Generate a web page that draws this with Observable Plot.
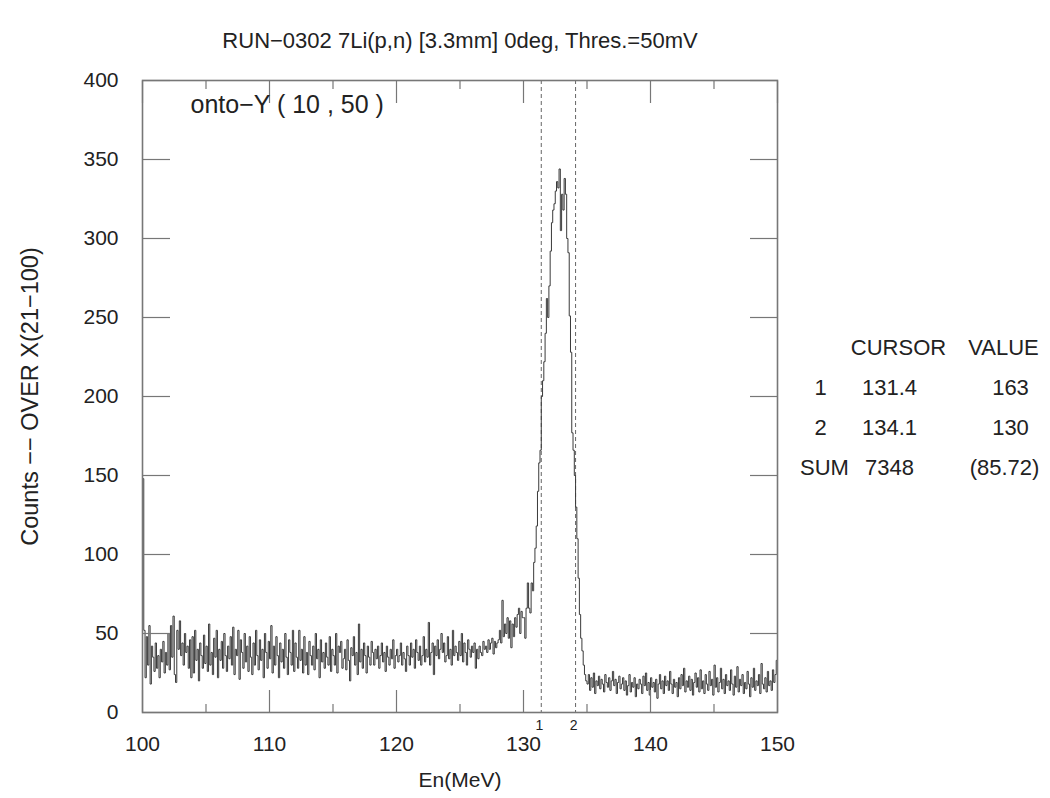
<!DOCTYPE html>
<html><head><meta charset="utf-8">
<script src="https://cdn.jsdelivr.net/npm/d3@7"></script>
<script src="https://cdn.jsdelivr.net/npm/@observablehq/plot@0.6"></script>
<style>body{margin:0;background:#fff;} svg{display:block;}</style>
</head><body><div id="chart"></div>
<script>
const title = "RUN\u22120302 7Li(p,n) [3.3mm] 0deg, Thres.=50mV";
const xLabel = "En(MeV)";
const yLabel = "Counts \u2212\u2212 OVER X(21\u2212100)";
const projLabel = "onto\u2212Y ( 10 , 50 )";
const binStart = 100;
const binWidth = 0.1;
const counts = [
148,52,22,48,30,55,18,42,35,26,
44,28,36,22,40,32,45,25,38,30,
50,27,55,35,61,24,19,52,40,58,
36,44,30,50,38,42,28,46,22,48,
25,52,33,40,20,44,36,28,49,31,
42,26,56,30,38,24,47,35,52,22,
40,33,45,28,50,36,26,42,34,48,
30,54,24,40,36,52,21,46,38,28,
50,32,42,26,48,35,24,44,30,52,
36,27,46,33,40,22,50,38,28,45,
34,55,25,42,30,48,36,22,44,32,
40,28,50,35,24,46,38,30,52,26,
44,35,28,52,33,40,25,48,30,38,
24,45,36,30,42,27,50,34,40,22,
46,32,38,28,44,35,30,48,26,40,
36,30,50,25,42,38,45,28,34,40,
27,46,33,20,41,36,48,30,38,24,
56,32,40,28,44,36,25,42,35,30,
45,38,30,40,34,42,28,36,44,32,
38,26,42,35,30,40,34,46,28,36,
40,32,36,44,30,38,34,26,42,36,
30,44,35,40,28,46,38,33,42,30,
36,48,32,40,35,57,30,38,44,24,
42,36,46,34,40,50,38,44,32,36,
48,34,40,30,52,36,42,38,33,45,
36,50,32,44,38,30,46,40,35,42,
38,44,28,40,34,42,38,36,45,40,
42,38,46,40,44,47,37,45,41,44,
46,52,44,71,48,56,50,60,47,58,
41,56,48,60,54,62,66,50,64,60,
60,47,66,82,66,63,82,77,95,104,
118,140,158,166,200,210,222,240,262,250,
270,292,310,318,322,330,336,332,344,305,
328,318,338,328,300,291,251,228,177,166,
150,130,110,85,62,47,39,30,24,20,
18,24,14,22,16,25,12,20,17,23,
15,21,18,13,24,19,16,22,14,20,
26,17,21,12,19,23,15,18,22,14,
20,11,17,24,13,19,16,22,10,18,
15,21,18,12,23,17,25,14,19,11,
22,16,19,13,21,9,18,24,15,20,
12,23,17,20,14,26,18,12,21,16,
19,10,22,15,24,17,28,13,20,16,
23,14,21,11,19,25,16,22,13,27,
15,20,12,24,18,14,26,17,21,11,
30,16,22,13,19,28,15,21,12,24,
17,20,14,27,18,11,23,16,29,13,
21,17,24,12,19,15,26,18,10,22,
16,28,14,20,17,24,12,31,18,15,
22,13,26,17,20,14,27,19,24,33
];
const xMajorTicks = [100, 110, 120, 130, 140, 150];
const xMinorTicks = [105, 115, 125, 135, 145];
const yTicks = [0, 50, 100, 150, 200, 250, 300, 350, 400];
const cursorPositions = [131.4, 134.1];
const cursorNames = ["1", "2"];
const tableHeader = ["CURSOR", "VALUE"];
const tableRowNames = ["1", "2", "SUM"];
const tableCursor = ["131.4", "134.1", "7348"];
const tableValue = ["163", "130", "(85.72)"];

// histogram outline (step) built from the bins
const hist = [{x: binStart, y: 0}];
counts.forEach((c, i) => hist.push({x: binStart + i * binWidth, y: c}));
const xEnd = binStart + counts.length * binWidth;
hist.push({x: xEnd, y: counts[counts.length - 1]});
hist.push({x: xEnd, y: 0});

const font = "Liberation Sans, Arial, Helvetica, sans-serif";
const fs = 21;
const tickColor = "#777";
const textColor = "#222";
const txt = {fontSize: fs, fill: textColor, textAnchor: "middle", lineAnchor: "middle"};

const tableMarks = [];
tableHeader.forEach((h, j) => {
  tableMarks.push(Plot.text([h], {...txt, fontSize: 22, frameAnchor: "right", dx: j === 0 ? 121 : 226, dy: -49}));
});
tableRowNames.forEach((r, i) => {
  const dy = -9 + 40 * i;
  tableMarks.push(Plot.text([r], {...txt, fontSize: 22, frameAnchor: "right", dx: i === 2 ? 47 : 43, dy}));
  tableMarks.push(Plot.text([tableCursor[i]], {...txt, fontSize: 22, frameAnchor: "right", dx: 112, dy}));
  tableMarks.push(Plot.text([tableValue[i]], {...txt, fontSize: 22, frameAnchor: "right", dx: i === 2 ? 227 : 233, dy}));
});

const chart = Plot.plot({
  width: 1050,
  height: 798,
  marginLeft: 142,
  marginRight: 273,
  marginTop: 80,
  marginBottom: 86,
  style: {fontFamily: font, background: "#fff", color: textColor},
  x: {domain: [100, 150]},
  y: {domain: [0, 400]},
  marks: [
    Plot.ruleX(cursorPositions, {x: d => d, stroke: "#666", strokeWidth: 1, strokeDasharray: "4,3"}),
    Plot.line(hist, {x: "x", y: "y", curve: "step-after", stroke: "#3a3a3a", strokeWidth: 1}),
    // inward ticks
    Plot.axisX({anchor: "bottom", ticks: xMajorTicks, tickSize: -22, tickFormat: () => "", stroke: tickColor, strokeWidth: 1.2, label: null}),
    Plot.axisX({anchor: "bottom", ticks: xMinorTicks, tickSize: -8, tickFormat: () => "", stroke: tickColor, strokeWidth: 1.2, label: null}),
    Plot.axisX({anchor: "top", ticks: xMajorTicks, tickSize: -22, tickFormat: () => "", stroke: tickColor, strokeWidth: 1.2, label: null}),
    Plot.axisX({anchor: "top", ticks: xMinorTicks, tickSize: -8, tickFormat: () => "", stroke: tickColor, strokeWidth: 1.2, label: null}),
    Plot.axisY({anchor: "left", ticks: yTicks, tickSize: -28, tickFormat: () => "", stroke: tickColor, strokeWidth: 1.2, label: null}),
    Plot.axisY({anchor: "right", ticks: yTicks, tickSize: -28, tickFormat: () => "", stroke: tickColor, strokeWidth: 1.2, label: null}),
    // tick labels
    Plot.axisX({anchor: "bottom", ticks: xMajorTicks, tickSize: 0, tickPadding: 24, fontSize: fs, fill: textColor, label: null}),
    Plot.axisY({anchor: "left", ticks: yTicks, tickSize: 0, tickPadding: 24, fontSize: fs, fill: textColor, label: null}),
    Plot.frame({stroke: tickColor, strokeWidth: 1.6}),
    // cursor labels
    Plot.text(cursorPositions, {x: d => d, text: (d, i) => cursorNames[i], frameAnchor: "bottom", lineAnchor: "middle", dy: 13, dx: -2, fontSize: 14, fill: textColor}),
    // titles
    Plot.text([title], {...txt, frameAnchor: "top", dy: -40, fontSize: 22}),
    Plot.text([xLabel], {...txt, frameAnchor: "bottom", dy: 68}),
    Plot.text([yLabel], {...txt, frameAnchor: "left", dx: -112, rotate: -90, fontSize: 23.5}),
    Plot.text([projLabel], {...txt, frameAnchor: "top-left", dx: 48, dy: 24, textAnchor: "start", fontSize: 25}),
    ...tableMarks
  ]
});
document.getElementById("chart").append(chart);
</script>
</body></html>
